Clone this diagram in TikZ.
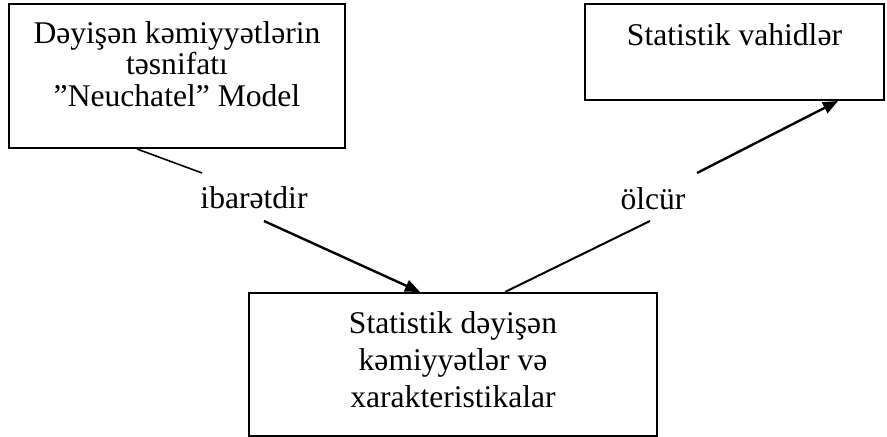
\documentclass[tikz,border=0pt]{standalone}
\usepackage{fontspec}
\setmainfont{Liberation Serif}
\usetikzlibrary{arrows.meta,calc}

\begin{document}
\begin{tikzpicture}[x=0.5pt,y=-0.5pt,
  every node/.style={font=\fontsize{15.8}{15.75}\selectfont},
  box/.style={draw,line width=1pt,rectangle,inner sep=0pt,align=center},
  lbl/.style={anchor=base,inner sep=0pt},
  thinlink/.style={line width=0.8pt},
  thicklink/.style={line width=1.2pt,-{Triangle[length=7.5pt,width=6pt]}}]

  % page frame
  \useasboundingbox (0,0) rectangle (887,437);

  % the three boxes
  \node[box,minimum width=168pt,minimum height=72pt,text depth=12pt]
    (model) at (177,76)
    {Dəyişən kəmiyyətlərin\\təsnifatı\\”Neuchatel” Model};
  \node[box,minimum width=149.5pt,minimum height=48pt,
        text height=10.5pt,text depth=16.5pt]
    (units) at (734.5,52) {Statistik vahidlər};
  \node[box,minimum width=204pt,minimum height=71.5pt,text depth=5pt,
        font=\fontsize{15.8}{18.5}\selectfont]
    (vars) at (453,364.5)
    {Statistik dəyişən\\kəmiyyətlər və\\xarakteristikalar};

  % link labels
  \node[lbl] (consists) at (254,209) {ibarətdir};
  \node[lbl] (measures) at (653,210) {ölcür};

  % gaps around the labels
  \coordinate (c1) at (202,173);
  \coordinate (c2) at (264,221);
  \coordinate (m1) at (650,221);
  \coordinate (m2) at (697,173);

  % connectors
  \draw[thinlink] ($(model.south)+(-40,0)$) -- (c1);
  \draw[thicklink] (c2) -- ($(vars.north)+(-33,0)$);
  \draw[thinlink,line width=1pt] ($(vars.north)+(52,0)$) -- (m1);
  \draw[thicklink] (m2) -- ($(units.south)+(103.5,0)$);
\end{tikzpicture}
\end{document}
